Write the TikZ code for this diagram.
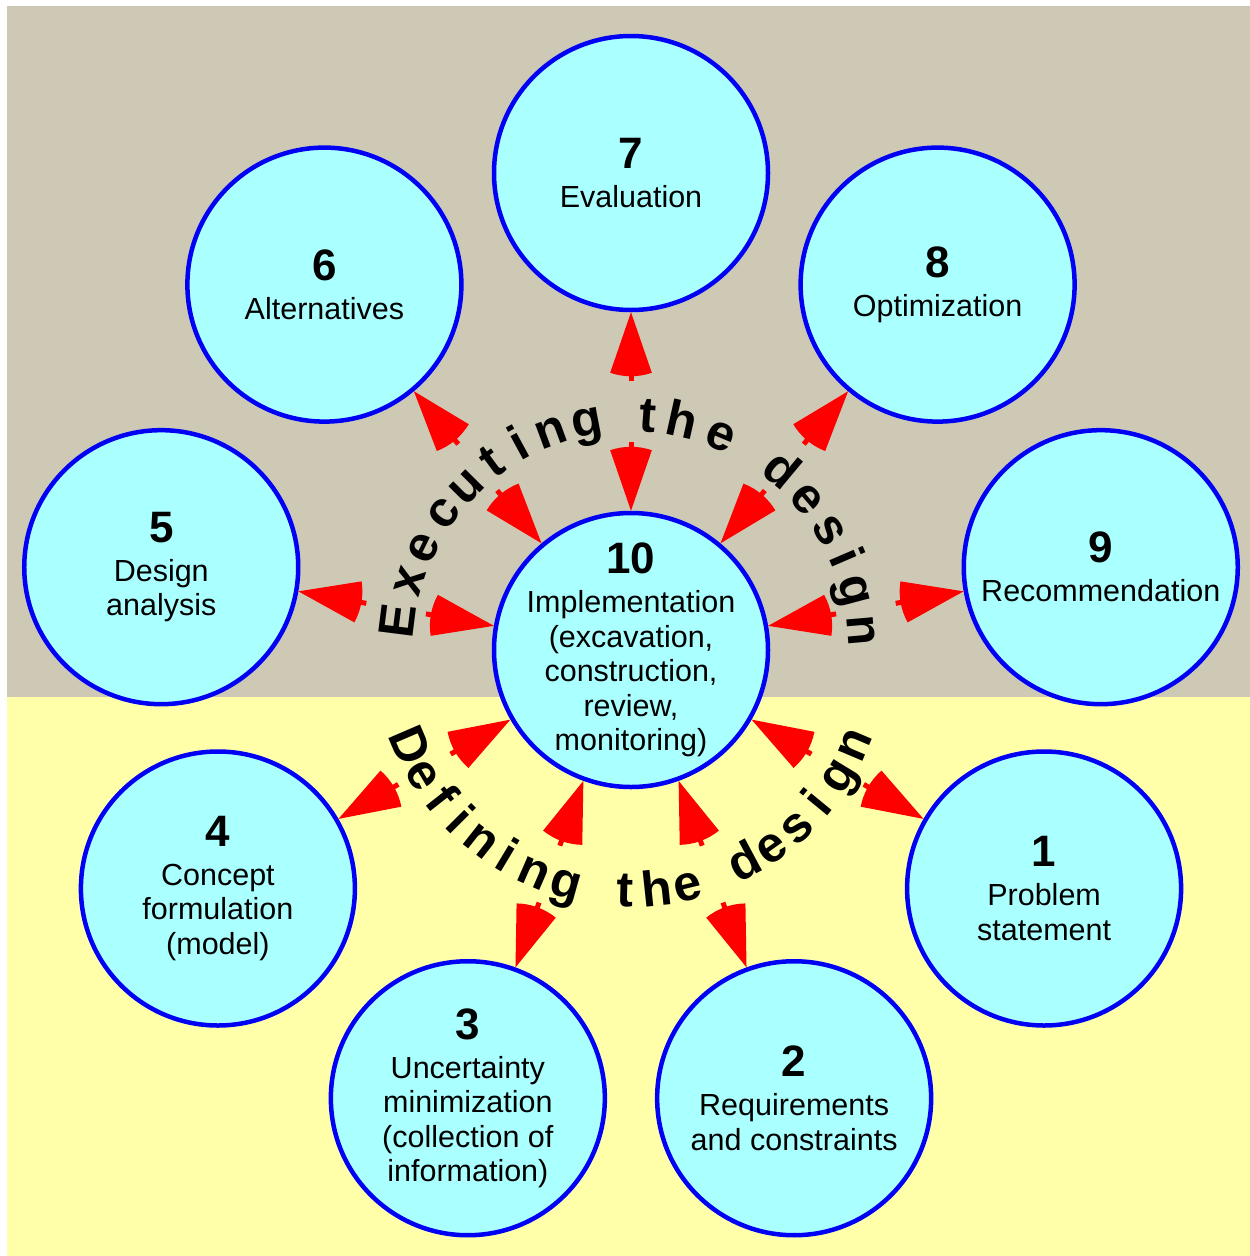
\documentclass[tikz,border=0pt]{standalone}
\usepackage{fontspec}
\setmainfont{Liberation Sans}
\definecolor{bgtop}{RGB}{206,201,181}
\definecolor{bgbot}{RGB}{255,255,170}
\definecolor{cyanfill}{RGB}{170,255,255}
\definecolor{ringblue}{RGB}{0,0,245}
\definecolor{headred}{RGB}{255,0,0}
\newcommand\stagenum[1]{{\fontsize{44}{44}\selectfont\bfseries #1}}
\tikzset{
  pics/redhead/.style={code={
    \fill[headred] (0,0) -- (-19:64) arc[start angle=-19,end angle=19,radius=64pt] -- cycle;
    \fill[headred] (62,-2.5) rectangle (69,2.5);
  }}
}
\begin{document}
\begin{tikzpicture}[x=1pt,y=1pt,
  stage/.style={circle, draw=ringblue, line width=4.5pt, fill=cyanfill, minimum size=274pt,
    inner sep=0pt},
  stagetext/.style={inner sep=0pt, align=center, font=\fontsize{30.5}{34.5}\selectfont},
  arcl/.style={inner sep=0pt, anchor=base, font=\fontsize{50}{50}\selectfont\bfseries}]
\useasboundingbox (0,-1256) rectangle (1250,0);
\fill[bgtop] (7,-6) rectangle (1250,-697);
\fill[bgbot] (7,-697) rectangle (1250,-1256);
\begin{scope}[shift={(631,-650)}]
\node[stage, label={[stagetext]center:{\stagenum{10}\\[4.5pt]Implementation\\(excavation,\\construction,\\review,\\monitoring)}}] (c10) at (0,0) {};
\node[stage, label={[stagetext]center:{\stagenum{1}\\[4.5pt]Problem\\statement}}] (c1) at (330:477) {};
\node[stage, label={[stagetext]center:{\stagenum{2}\\[4.5pt]Requirements\\and constraints}}] (c2) at (290:477) {};
\node[stage, label={[stagetext]center:{\stagenum{3}\\[4.5pt]Uncertainty\\minimization\\(collection of\\information)}}] (c3) at (250:477) {};
\node[stage, label={[stagetext]center:{\stagenum{4}\\[4.5pt]Concept\\formulation\\(model)}}] (c4) at (210:477) {};
\node[stage, label={[stagetext]center:{\stagenum{5}\\[4.5pt]Design\\analysis}}] (c5) at (170:477) {};
\node[stage, label={[stagetext]center:{\stagenum{6}\\[4.5pt]Alternatives}}] (c6) at (130:477) {};
\node[stage, label={[stagetext]center:{\stagenum{7}\\[4.5pt]Evaluation}}] (c7) at (90:477) {};
\node[stage, label={[stagetext]center:{\stagenum{8}\\[4.5pt]Optimization}}] (c8) at (50:477) {};
\node[stage, label={[stagetext]center:{\stagenum{9}\\[4.5pt]Recommendation}}] (c9) at (10:477) {};
\foreach \n/\a in {1/330,2/290,3/250,4/210,5/170,6/130,7/90,8/50,9/10} {
  \pgfmathtruncatemacro\b{mod(\a+180,360)}
  \pic[rotate=\a] at (c10.\a) {redhead};
  \pic[rotate=\b] at (c\n.\b) {redhead};
}
\foreach \ch/\ang in {E/172.8,x/162.6,e/153.8,c/143.8,u/135.2,t/126.5,i/118.5,n/110.2,g/100.9,
                      t/85.9,h/77.4,e/67.3,
                      d/50.1,e/40.5,s/31.0,i/23.3,g/14.9,n/4.9}
  \node[arcl, rotate=\ang-90] at (\ang:218) {\ch};
\foreach \ch/\ang in {D/203.3,e/211.0,f/218.2,i/224.8,n/231.8,i/239.0,n/246.4,g/254.4,
                      t/268.6,h/276.1,e/283.6,
                      d/298.1,e/305.4,s/313.1,i/320.6,g/328.6,n/337.0}
  \node[arcl, rotate=\ang+90] at (\ang:257) {\ch};
\end{scope}
\end{tikzpicture}
\end{document}
